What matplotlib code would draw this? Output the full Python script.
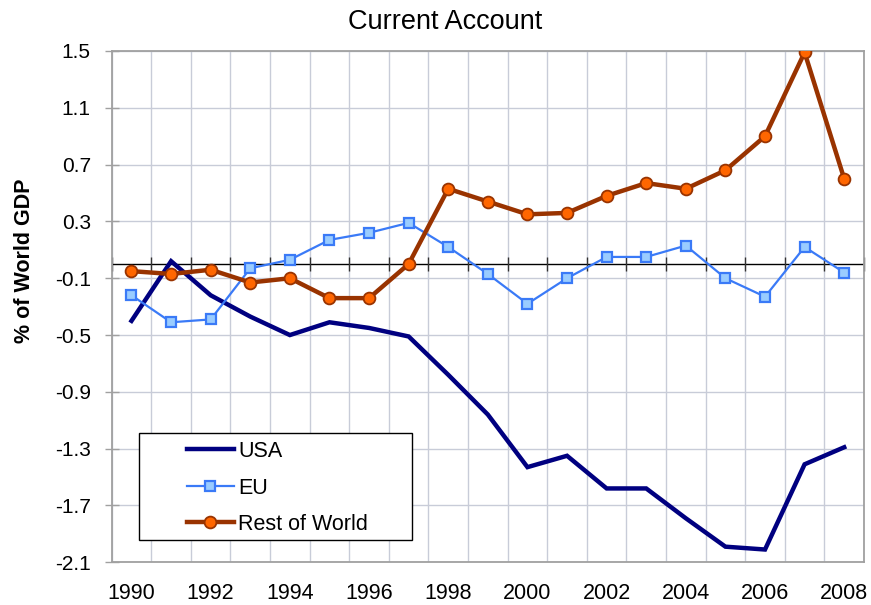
import matplotlib
matplotlib.use("Agg")
import matplotlib.pyplot as plt
from matplotlib.patches import Rectangle
import numpy as np

plt.rcParams['font.family'] = ['Liberation Sans', 'DejaVu Sans']

years = list(range(1990, 2009))
usa = [-0.40, 0.02, -0.22, -0.37, -0.50, -0.41, -0.45, -0.51, -0.78, -1.06,
       -1.43, -1.35, -1.58, -1.58, -1.79, -1.99, -2.01, -1.41, -1.29]
eu = [-0.22, -0.41, -0.39, -0.03, 0.03, 0.17, 0.22, 0.29, 0.12, -0.07,
      -0.28, -0.10, 0.05, 0.05, 0.13, -0.10, -0.23, 0.12, -0.06]
row = [-0.05, -0.07, -0.04, -0.13, -0.10, -0.24, -0.24, 0.00, 0.53, 0.44,
       0.35, 0.36, 0.48, 0.57, 0.53, 0.66, 0.90, 1.49, 0.60]
yticks = [1.5, 1.1, 0.7, 0.3, -0.1, -0.5, -0.9, -1.3, -1.7, -2.1]
xtick_labels = [str(y) for y in years[::2]]

W, H = 871, 605
fig = plt.figure(figsize=(W / 100, H / 100), dpi=100)
L, R, T, B = 111.7, 864, 51, 562.3
ax = fig.add_axes([L / W, 1 - B / H, (R - L) / W, (B - T) / H])

x = np.arange(len(years))
grid_c = '#c8ccd8'
frame_c = '#a0a0a0'

ax.set_xlim(-0.5, len(years) - 0.5)
ax.set_ylim(-2.1, 1.5)

# grid
for b in np.arange(-0.5, len(years) + 0.5, 1.0):
    ax.axvline(b, color=grid_c, lw=1.0, zorder=0)
for yt in yticks:
    ax.axhline(yt, color=grid_c, lw=1.0, zorder=0)

# zero axis line with tick marks
bounds = np.arange(-0.5, len(years), 1.0)
ax.axhline(0, color='black', lw=1.0, zorder=1)
ax.plot(bounds, np.zeros_like(bounds), linestyle='none', marker='|', ms=10,
        mew=1.0, color='#333333', zorder=1, clip_on=False)

l1, = ax.plot(x, usa, color='#000080', lw=3.2, label='USA', zorder=3,
              solid_joinstyle='miter')
l2, = ax.plot(x, eu, color='#3a7af7', lw=1.6, marker='s', ms=7.5,
              mfc='#99ccff', mec='#3a7af7', mew=1.6, label='EU', zorder=4)
l3, = ax.plot(x, row, color='#993300', lw=3.2, marker='o', ms=8.5,
              mfc='#ff6600', mec='#993300', mew=1.3, label='Rest of World', zorder=5)

for s in ax.spines.values():
    s.set_color(frame_c)
    s.set_linewidth(1.3)

ax.set_yticks(yticks)
ax.set_yticklabels([f"{v:.1f}" for v in yticks], fontsize=15)
ax.tick_params(axis='y', direction='inout', length=10, color=frame_c, width=1.0,
               pad=10)
ax.set_xticks(x[::2])
ax.set_xticklabels(xtick_labels, fontsize=15.5)
ax.tick_params(axis='x', length=0, pad=15)

fig.text(445 / W, 1 - 22 / H, 'Current Account', fontsize=19.5,
         ha='center', va='center')
fig.text(24 / W, 1 - 260.5 / H, '% of World GDP', fontsize=15.5,
         fontweight='bold', rotation=90, ha='center', va='center')

# legend box
rect = Rectangle((139.3 / W, 1 - 540 / H), (412.3 - 139.3) / W, (540 - 432.7) / H,
                 transform=fig.transFigure, facecolor='white', edgecolor='black',
                 lw=1.0, zorder=6)
fig.patches.append(rect)
leg = fig.legend(handles=[l1, l2, l3], loc='upper left',
                 bbox_to_anchor=(186.7 / W, 1 - 441 / H),
                 bbox_transform=fig.transFigure, frameon=False, fontsize=15.5,
                 borderpad=0, borderaxespad=0, handlelength=2.2,
                 handletextpad=0.2, labelspacing=0.72)
leg.set_zorder(7)

fig.savefig('out.png', dpi=100)
